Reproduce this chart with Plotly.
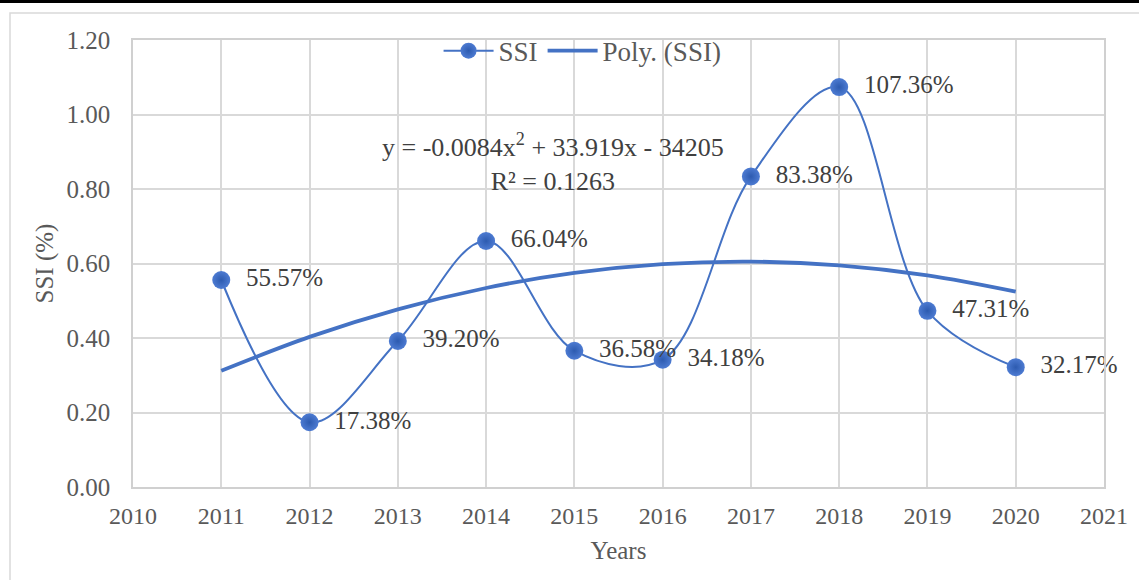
import numpy as np
import plotly.graph_objects as go

# SSI values by year
years = [2011, 2012, 2013, 2014, 2015, 2016, 2017, 2018, 2019, 2020]
ssi = [0.5557, 0.1738, 0.3920, 0.6604, 0.3658, 0.3418, 0.8338, 1.0736, 0.4731, 0.3217]
ssi_labels = ["55.57%", "17.38%", "39.20%", "66.04%", "36.58%",
              "34.18%", "83.38%", "107.36%", "47.31%", "32.17%"]
x_ticks = list(range(2010, 2022))
y_ticks = [0.0, 0.2, 0.4, 0.6, 0.8, 1.0, 1.2]

BLUE = "#4472C4"
FONT = "Liberation Serif, Times New Roman, serif"

# polynomial (order 2) trend line, same as Excel's Poly. trendline
xc = np.array(years) - 2015
coef = np.polyfit(xc, ssi, 2)
trend = np.polyval(coef, xc)

fig = go.Figure()

fig.add_trace(go.Scatter(
    x=years, y=ssi,
    mode="lines+markers+text",
    name="SSI",
    line=dict(color=BLUE, width=2, shape="spline", smoothing=1.0),
    marker=dict(size=18, color="#4d7bd2",
                gradient=dict(type="radial", color="#2d5bb0"),
                line=dict(width=0)),
    text=["  " + t for t in ssi_labels],
    textposition="middle right",
    textfont=dict(family=FONT, size=25, color="#404040"),
    cliponaxis=False,
))

fig.add_trace(go.Scatter(
    x=years, y=trend,
    mode="lines",
    name="Poly. (SSI)",
    line=dict(color=BLUE, width=3.8, shape="spline"),
    hoverinfo="skip",
))

fig.add_annotation(
    x=0.4325, y=0.87, xref="paper", yref="y",
    text="y = -0.0084x<sup>2</sup> + 33.919x - 34205<br>R² = 0.1263",
    showarrow=False, align="center",
    font=dict(family=FONT, size=26, color="#404040"),
)

# outer chart border and the dark strip at the very top
fig.add_shape(type="rect", xref="paper", yref="paper",
              x0=(10 - 133) / 971, x1=1.2, y0=-0.3, y1=(487 - 13) / 447,
              line=dict(color="#d9d9d9", width=1.5), layer="below")
fig.add_shape(type="rect", xref="paper", yref="paper",
              x0=-0.2, x1=1.2, y0=(487 - 3) / 447, y1=(487 + 2) / 447,
              line=dict(width=0), fillcolor="black")

fig.update_xaxes(
    range=[2010, 2021], tickvals=x_ticks, ticktext=[str(v) for v in x_ticks],
    showgrid=True, gridcolor="#d9d9d9", gridwidth=1.5,
    showline=True, linecolor="#d0d0d0", linewidth=1.5, mirror=True,
    zeroline=False, ticks="", ticklen=0, ticklabelstandoff=6,
    tickfont=dict(family=FONT, size=24, color="#595959"),
    title=dict(text="Years", font=dict(family=FONT, size=25, color="#595959"), standoff=14),
)
fig.update_yaxes(
    range=[0, 1.2], tickvals=y_ticks, tickformat=".2f",
    showgrid=True, gridcolor="#d9d9d9", gridwidth=1.5,
    showline=True, linecolor="#d0d0d0", linewidth=1.5, mirror=True,
    zeroline=False, ticks="", ticklen=0, ticklabelstandoff=16,
    tickfont=dict(family=FONT, size=25, color="#595959"),
    title=dict(text="SSI (%)", font=dict(family=FONT, size=25, color="#595959"), standoff=6),
)

fig.update_layout(
    width=1139, height=580,
    font=dict(family=FONT, size=25, color="#595959"),
    margin=dict(l=133, r=35, t=40, b=93),
    paper_bgcolor="white", plot_bgcolor="white",
    showlegend=True,
    legend=dict(orientation="h", x=0.463, y=1.03, xanchor="center", yanchor="top",
                bgcolor="rgba(255,255,255,0)",
                font=dict(family=FONT, size=27, color="#595959"),
                itemwidth=50),
)

fig.write_html("out.html", config={"displayModeBar": False},
               post_script="document.body.style.margin='0';")
